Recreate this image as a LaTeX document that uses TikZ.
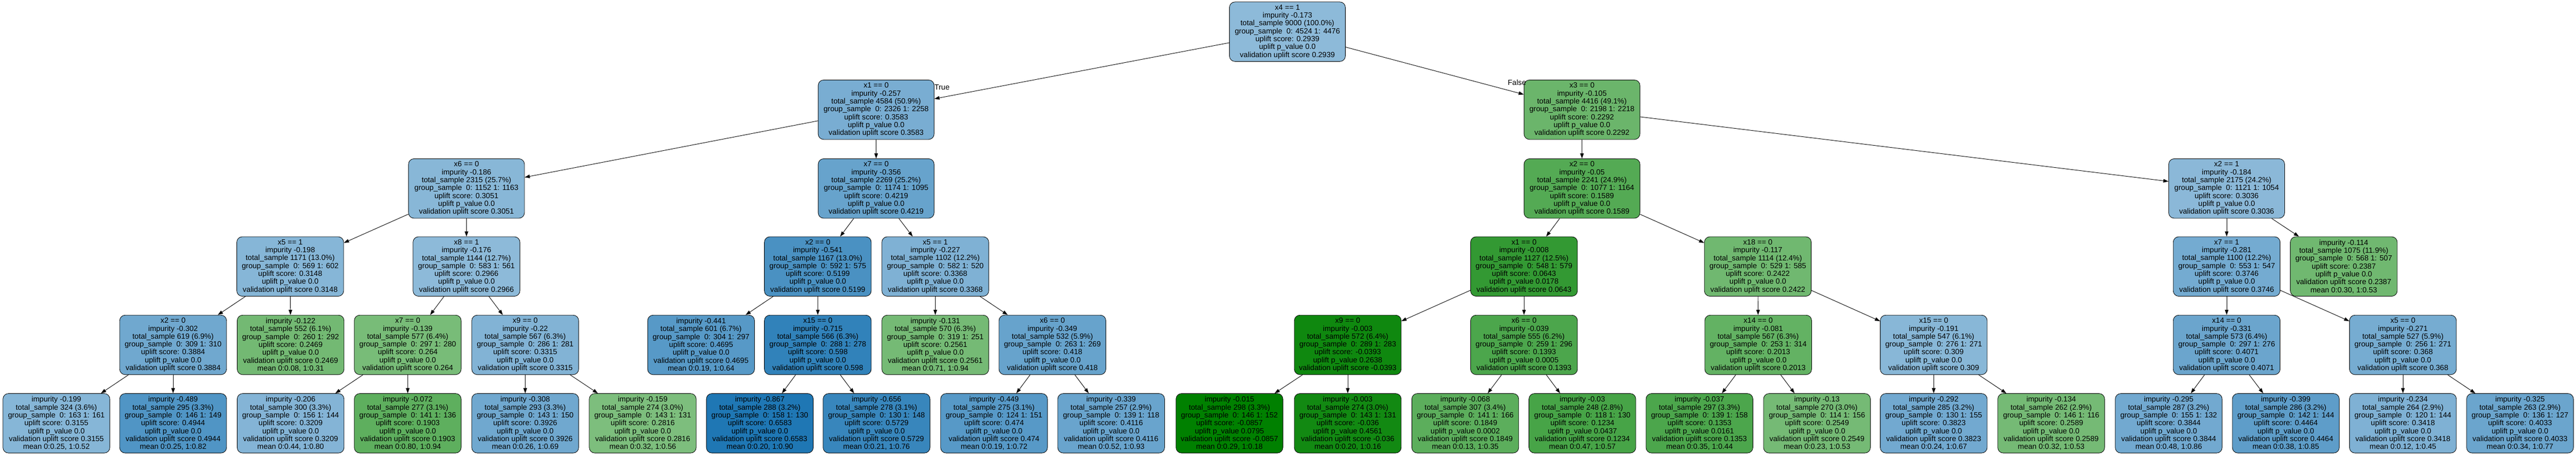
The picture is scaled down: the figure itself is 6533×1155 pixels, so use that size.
\documentclass[tikz,border=0pt]{standalone}
\usepackage{fontspec}
\setmainfont{Liberation Sans}
\usetikzlibrary{arrows.meta}
\definecolor{tblue}{RGB}{31,119,180}
\definecolor{tgreen}{RGB}{0,128,0}
\tikzset{
  tnode/.style={draw=black, line width=1.1pt, rounded corners=14pt, align=center,
    font=\fontsize{19}{20}\selectfont, inner sep=2pt, minimum height=151pt, text=black},
  widebox/.style={minimum width=294pt},
  narrowbox/.style={minimum width=271pt},
  edge/.style={line width=1.2pt, draw=black, -{Triangle[length=13pt,width=9pt]}},
  lbl/.style={font=\fontsize{19}{20}\selectfont, inner sep=0pt, text=black}
}
\begin{document}
\begin{tikzpicture}[x=1pt,y=-1pt]
\useasboundingbox (0,0) rectangle (6533,1155);
% level 0
\node[tnode,widebox,fill=tblue!51!white] (n0) at (3265,80.5) {x4 == 1\\impurity -0.173\\total\_sample 9000 (100.0\%)\\group\_sample~ 0: 4524 1: 4476\\uplift score: 0.2939\\uplift p\_value 0.0\\validation uplift score 0.2939};
% level 1
\node[tnode,widebox,fill=tblue!60!white] (n1) at (2222,278.5) {x1 == 0\\impurity -0.257\\total\_sample 4584 (50.9\%)\\group\_sample~ 0: 2326 1: 2258\\uplift score: 0.3583\\uplift p\_value 0.0\\validation uplift score 0.3583};
\node[tnode,widebox,fill=tgreen!58!white] (n2) at (4012,278.5) {x3 == 0\\impurity -0.105\\total\_sample 4416 (49.1\%)\\group\_sample~ 0: 2198 1: 2218\\uplift score: 0.2292\\uplift p\_value 0.0\\validation uplift score 0.2292};
% level 2
\node[tnode,widebox,fill=tblue!53!white] (n3) at (1183,478.5) {x6 == 0\\impurity -0.186\\total\_sample 2315 (25.7\%)\\group\_sample~ 0: 1152 1: 1163\\uplift score: 0.3051\\uplift p\_value 0.0\\validation uplift score 0.3051};
\node[tnode,widebox,fill=tblue!68!white] (n4) at (2222,478.5) {x7 == 0\\impurity -0.356\\total\_sample 2269 (25.2\%)\\group\_sample~ 0: 1174 1: 1095\\uplift score: 0.4219\\uplift p\_value 0.0\\validation uplift score 0.4219};
\node[tnode,widebox,fill=tgreen!67!white] (n5) at (4012,478.5) {x2 == 0\\impurity -0.05\\total\_sample 2241 (24.9\%)\\group\_sample~ 0: 1077 1: 1164\\uplift score: 0.1589\\uplift p\_value 0.0\\validation uplift score 0.1589};
\node[tnode,widebox,fill=tblue!52!white] (n6) at (5647,478.5) {x2 == 1\\impurity -0.184\\total\_sample 2175 (24.2\%)\\group\_sample~ 0: 1121 1: 1054\\uplift score: 0.3036\\uplift p\_value 0.0\\validation uplift score 0.3036};
% level 3
\node[tnode,narrowbox,fill=tblue!54!white] (n7) at (736,676.5) {x5 == 1\\impurity -0.198\\total\_sample 1171 (13.0\%)\\group\_sample~ 0: 569 1: 602\\uplift score: 0.3148\\uplift p\_value 0.0\\validation uplift score 0.3148};
\node[tnode,narrowbox,fill=tblue!51!white] (n8) at (1183,676.5) {x8 == 1\\impurity -0.176\\total\_sample 1144 (12.7\%)\\group\_sample~ 0: 583 1: 561\\uplift score: 0.2966\\uplift p\_value 0.0\\validation uplift score 0.2966};
\node[tnode,narrowbox,fill=tblue!81!white] (n9) at (2074,676.5) {x2 == 0\\impurity -0.541\\total\_sample 1167 (13.0\%)\\group\_sample~ 0: 592 1: 575\\uplift score: 0.5199\\uplift p\_value 0.0\\validation uplift score 0.5199};
\node[tnode,narrowbox,fill=tblue!57!white] (n10) at (2372,676.5) {x5 == 1\\impurity -0.227\\total\_sample 1102 (12.2\%)\\group\_sample~ 0: 582 1: 520\\uplift score: 0.3368\\uplift p\_value 0.0\\validation uplift score 0.3368};
\node[tnode,narrowbox,fill=tgreen!80!white] (n11) at (3865,676.5) {x1 == 0\\impurity -0.008\\total\_sample 1127 (12.5\%)\\group\_sample~ 0: 548 1: 579\\uplift score: 0.0643\\uplift p\_value 0.0178\\validation uplift score 0.0643};
\node[tnode,narrowbox,fill=tgreen!56!white] (n12) at (4458,676.5) {x18 == 0\\impurity -0.117\\total\_sample 1114 (12.4\%)\\group\_sample~ 0: 529 1: 585\\uplift score: 0.2422\\uplift p\_value 0.0\\validation uplift score 0.2422};
\node[tnode,narrowbox,fill=tblue!62!white] (n13) at (5647,676.5) {x7 == 1\\impurity -0.281\\total\_sample 1100 (12.2\%)\\group\_sample~ 0: 553 1: 547\\uplift score: 0.3746\\uplift p\_value 0.0\\validation uplift score 0.3746};
\node[tnode,narrowbox,fill=tgreen!56!white] (n14) at (5944,676.5) {impurity -0.114\\total\_sample 1075 (11.9\%)\\group\_sample~ 0: 568 1: 507\\uplift score: 0.2387\\uplift p\_value 0.0\\validation uplift score 0.2387\\mean 0:0.30, 1:0.53};
% level 4
\node[tnode,narrowbox,fill=tblue!64!white] (n15) at (439,875.5) {x2 == 0\\impurity -0.302\\total\_sample 619 (6.9\%)\\group\_sample~ 0: 309 1: 310\\uplift score: 0.3884\\uplift p\_value 0.0\\validation uplift score 0.3884};
\node[tnode,narrowbox,fill=tgreen!55!white] (n16) at (737,875.5) {impurity -0.122\\total\_sample 552 (6.1\%)\\group\_sample~ 0: 260 1: 292\\uplift score: 0.2469\\uplift p\_value 0.0\\validation uplift score 0.2469\\mean 0:0.08, 1:0.31};
\node[tnode,narrowbox,fill=tgreen!53!white] (n17) at (1034,875.5) {x7 == 0\\impurity -0.139\\total\_sample 577 (6.4\%)\\group\_sample~ 0: 297 1: 280\\uplift score: 0.264\\uplift p\_value 0.0\\validation uplift score 0.264};
\node[tnode,narrowbox,fill=tblue!56!white] (n18) at (1332,875.5) {x9 == 0\\impurity -0.22\\total\_sample 567 (6.3\%)\\group\_sample~ 0: 286 1: 281\\uplift score: 0.3315\\uplift p\_value 0.0\\validation uplift score 0.3315};
\node[tnode,narrowbox,fill=tblue!75!white] (n19) at (1778,875.5) {impurity -0.441\\total\_sample 601 (6.7\%)\\group\_sample~ 0: 304 1: 297\\uplift score: 0.4695\\uplift p\_value 0.0\\validation uplift score 0.4695\\mean 0:0.19, 1:0.64};
\node[tnode,narrowbox,fill=tblue!92!white] (n20) at (2074,875.5) {x15 == 0\\impurity -0.715\\total\_sample 566 (6.3\%)\\group\_sample~ 0: 288 1: 278\\uplift score: 0.598\\uplift p\_value 0.0\\validation uplift score 0.598};
\node[tnode,narrowbox,fill=tgreen!54!white] (n21) at (2372,875.5) {impurity -0.131\\total\_sample 570 (6.3\%)\\group\_sample~ 0: 319 1: 251\\uplift score: 0.2561\\uplift p\_value 0.0\\validation uplift score 0.2561\\mean 0:0.71, 1:0.94};
\node[tnode,narrowbox,fill=tblue!68!white] (n22) at (2669,875.5) {x6 == 0\\impurity -0.349\\total\_sample 532 (5.9\%)\\group\_sample~ 0: 263 1: 269\\uplift score: 0.418\\uplift p\_value 0.0\\validation uplift score 0.418};
\node[tnode,narrowbox,fill=tgreen!94!white] (n23) at (3418,875.5) {x9 == 0\\impurity -0.003\\total\_sample 572 (6.4\%)\\group\_sample~ 0: 289 1: 283\\uplift score: -0.0393\\uplift p\_value 0.2638\\validation uplift score -0.0393};
\node[tnode,narrowbox,fill=tgreen!70!white] (n24) at (3865,875.5) {x6 == 0\\impurity -0.039\\total\_sample 555 (6.2\%)\\group\_sample~ 0: 259 1: 296\\uplift score: 0.1393\\uplift p\_value 0.0005\\validation uplift score 0.1393};
\node[tnode,narrowbox,fill=tgreen!61!white] (n25) at (4459,875.5) {x14 == 0\\impurity -0.081\\total\_sample 567 (6.3\%)\\group\_sample~ 0: 253 1: 314\\uplift score: 0.2013\\uplift p\_value 0.0\\validation uplift score 0.2013};
\node[tnode,narrowbox,fill=tblue!53!white] (n26) at (4904,875.5) {x15 == 0\\impurity -0.191\\total\_sample 547 (6.1\%)\\group\_sample~ 0: 276 1: 271\\uplift score: 0.309\\uplift p\_value 0.0\\validation uplift score 0.309};
\node[tnode,narrowbox,fill=tblue!66!white] (n27) at (5647,875.5) {x14 == 0\\impurity -0.331\\total\_sample 573 (6.4\%)\\group\_sample~ 0: 297 1: 276\\uplift score: 0.4071\\uplift p\_value 0.0\\validation uplift score 0.4071};
\node[tnode,narrowbox,fill=tblue!61!white] (n28) at (6094,875.5) {x5 == 0\\impurity -0.271\\total\_sample 527 (5.9\%)\\group\_sample~ 0: 256 1: 271\\uplift score: 0.368\\uplift p\_value 0.0\\validation uplift score 0.368};
% level 5
\node[tnode,narrowbox,fill=tblue!54!white] (l0) at (143,1074.5) {impurity -0.199\\total\_sample 324 (3.6\%)\\group\_sample~ 0: 163 1: 161\\uplift score: 0.3155\\uplift p\_value 0.0\\validation uplift score 0.3155\\mean 0:0.25, 1:0.52};
\node[tnode,narrowbox,fill=tblue!78!white] (l1) at (439,1074.5) {impurity -0.489\\total\_sample 295 (3.3\%)\\group\_sample~ 0: 146 1: 149\\uplift score: 0.4944\\uplift p\_value 0.0\\validation uplift score 0.4944\\mean 0:0.25, 1:0.82};
\node[tnode,narrowbox,fill=tblue!55!white] (l2) at (737,1074.5) {impurity -0.206\\total\_sample 300 (3.3\%)\\group\_sample~ 0: 156 1: 144\\uplift score: 0.3209\\uplift p\_value 0.0\\validation uplift score 0.3209\\mean 0:0.44, 1:0.80};
\node[tnode,narrowbox,fill=tgreen!63!white] (l3) at (1034,1074.5) {impurity -0.072\\total\_sample 277 (3.1\%)\\group\_sample~ 0: 141 1: 136\\uplift score: 0.1903\\uplift p\_value 0.0\\validation uplift score 0.1903\\mean 0:0.80, 1:0.94};
\node[tnode,narrowbox,fill=tblue!64!white] (l4) at (1332,1074.5) {impurity -0.308\\total\_sample 293 (3.3\%)\\group\_sample~ 0: 143 1: 150\\uplift score: 0.3926\\uplift p\_value 0.0\\validation uplift score 0.3926\\mean 0:0.26, 1:0.69};
\node[tnode,narrowbox,fill=tgreen!51!white] (l5) at (1630,1074.5) {impurity -0.159\\total\_sample 274 (3.0\%)\\group\_sample~ 0: 143 1: 131\\uplift score: 0.2816\\uplift p\_value 0.0\\validation uplift score 0.2816\\mean 0:0.32, 1:0.56};
\node[tnode,narrowbox,fill=tblue!100!white] (l6) at (1927,1074.5) {impurity -0.867\\total\_sample 288 (3.2\%)\\group\_sample~ 0: 158 1: 130\\uplift score: 0.6583\\uplift p\_value 0.0\\validation uplift score 0.6583\\mean 0:0.20, 1:0.90};
\node[tnode,narrowbox,fill=tblue!89!white] (l7) at (2223,1074.5) {impurity -0.656\\total\_sample 278 (3.1\%)\\group\_sample~ 0: 130 1: 148\\uplift score: 0.5729\\uplift p\_value 0.0\\validation uplift score 0.5729\\mean 0:0.21, 1:0.76};
\node[tnode,narrowbox,fill=tblue!75!white] (l8) at (2521,1074.5) {impurity -0.449\\total\_sample 275 (3.1\%)\\group\_sample~ 0: 124 1: 151\\uplift score: 0.474\\uplift p\_value 0.0\\validation uplift score 0.474\\mean 0:0.19, 1:0.72};
\node[tnode,narrowbox,fill=tblue!67!white] (l9) at (2818,1074.5) {impurity -0.339\\total\_sample 257 (2.9\%)\\group\_sample~ 0: 139 1: 118\\uplift score: 0.4116\\uplift p\_value 0.0\\validation uplift score 0.4116\\mean 0:0.52, 1:0.93};
\node[tnode,narrowbox,fill=tgreen!100!white] (l10) at (3118,1074.5) {impurity -0.015\\total\_sample 298 (3.3\%)\\group\_sample~ 0: 146 1: 152\\uplift score: -0.0857\\uplift p\_value 0.0795\\validation uplift score -0.0857\\mean 0:0.29, 1:0.18};
\node[tnode,narrowbox,fill=tgreen!93!white] (l11) at (3418,1074.5) {impurity -0.003\\total\_sample 274 (3.0\%)\\group\_sample~ 0: 143 1: 131\\uplift score: -0.036\\uplift p\_value 0.4561\\validation uplift score -0.036\\mean 0:0.20, 1:0.16};
\node[tnode,narrowbox,fill=tgreen!64!white] (l12) at (3716,1074.5) {impurity -0.068\\total\_sample 307 (3.4\%)\\group\_sample~ 0: 141 1: 166\\uplift score: 0.1849\\uplift p\_value 0.0002\\validation uplift score 0.1849\\mean 0:0.13, 1:0.35};
\node[tnode,narrowbox,fill=tgreen!72!white] (l13) at (4013,1074.5) {impurity -0.03\\total\_sample 248 (2.8\%)\\group\_sample~ 0: 118 1: 130\\uplift score: 0.1234\\uplift p\_value 0.0437\\validation uplift score 0.1234\\mean 0:0.47, 1:0.57};
\node[tnode,narrowbox,fill=tgreen!70!white] (l14) at (4310,1074.5) {impurity -0.037\\total\_sample 297 (3.3\%)\\group\_sample~ 0: 139 1: 158\\uplift score: 0.1353\\uplift p\_value 0.0161\\validation uplift score 0.1353\\mean 0:0.35, 1:0.44};
\node[tnode,narrowbox,fill=tgreen!54!white] (l15) at (4608,1074.5) {impurity -0.13\\total\_sample 270 (3.0\%)\\group\_sample~ 0: 114 1: 156\\uplift score: 0.2549\\uplift p\_value 0.0\\validation uplift score 0.2549\\mean 0:0.23, 1:0.53};
\node[tnode,narrowbox,fill=tblue!63!white] (l16) at (4904,1074.5) {impurity -0.292\\total\_sample 285 (3.2\%)\\group\_sample~ 0: 130 1: 155\\uplift score: 0.3823\\uplift p\_value 0.0\\validation uplift score 0.3823\\mean 0:0.24, 1:0.67};
\node[tnode,narrowbox,fill=tgreen!54!white] (l17) at (5202,1074.5) {impurity -0.134\\total\_sample 262 (2.9\%)\\group\_sample~ 0: 146 1: 116\\uplift score: 0.2589\\uplift p\_value 0.0\\validation uplift score 0.2589\\mean 0:0.32, 1:0.53};
\node[tnode,narrowbox,fill=tblue!63!white] (l18) at (5500,1074.5) {impurity -0.295\\total\_sample 287 (3.2\%)\\group\_sample~ 0: 155 1: 132\\uplift score: 0.3844\\uplift p\_value 0.0\\validation uplift score 0.3844\\mean 0:0.48, 1:0.86};
\node[tnode,narrowbox,fill=tblue!72!white] (l19) at (5797,1074.5) {impurity -0.399\\total\_sample 286 (3.2\%)\\group\_sample~ 0: 142 1: 144\\uplift score: 0.4464\\uplift p\_value 0.0\\validation uplift score 0.4464\\mean 0:0.38, 1:0.85};
\node[tnode,narrowbox,fill=tblue!57!white] (l20) at (6094,1074.5) {impurity -0.234\\total\_sample 264 (2.9\%)\\group\_sample~ 0: 120 1: 144\\uplift score: 0.3418\\uplift p\_value 0.0\\validation uplift score 0.3418\\mean 0:0.12, 1:0.45};
\node[tnode,narrowbox,fill=tblue!66!white] (l21) at (6391,1074.5) {impurity -0.325\\total\_sample 263 (2.9\%)\\group\_sample~ 0: 136 1: 127\\uplift score: 0.4033\\uplift p\_value 0.0\\validation uplift score 0.4033\\mean 0:0.34, 1:0.77};
% edge labels
\node[lbl] (tlab) at (2389,222) {True};
\node[lbl] (flab) at (3847,209) {False};
% edges
\draw[edge] (n0) -- (n1);
\draw[edge] (n0) -- (n2);
\draw[edge] (n1) -- (n3);
\draw[edge] (n1) -- (n4);
\draw[edge] (n2) -- (n5);
\draw[edge] (n2) -- (n6);
\draw[edge] (n3) -- (n7);
\draw[edge] (n3) -- (n8);
\draw[edge] (n4) -- (n9);
\draw[edge] (n4) -- (n10);
\draw[edge] (n5) -- (n11);
\draw[edge] (n5) -- (n12);
\draw[edge] (n6) -- (n13);
\draw[edge] (n6) -- (n14);
\draw[edge] (n7) -- (n15);
\draw[edge] (n7) -- (n16);
\draw[edge] (n8) -- (n17);
\draw[edge] (n8) -- (n18);
\draw[edge] (n9) -- (n19);
\draw[edge] (n9) -- (n20);
\draw[edge] (n10) -- (n21);
\draw[edge] (n10) -- (n22);
\draw[edge] (n11) -- (n23);
\draw[edge] (n11) -- (n24);
\draw[edge] (n12) -- (n25);
\draw[edge] (n12) -- (n26);
\draw[edge] (n13) -- (n27);
\draw[edge] (n13) -- (n28);
\draw[edge] (n15) -- (l0);
\draw[edge] (n15) -- (l1);
\draw[edge] (n17) -- (l2);
\draw[edge] (n17) -- (l3);
\draw[edge] (n18) -- (l4);
\draw[edge] (n18) -- (l5);
\draw[edge] (n20) -- (l6);
\draw[edge] (n20) -- (l7);
\draw[edge] (n22) -- (l8);
\draw[edge] (n22) -- (l9);
\draw[edge] (n23) -- (l10);
\draw[edge] (n23) -- (l11);
\draw[edge] (n24) -- (l12);
\draw[edge] (n24) -- (l13);
\draw[edge] (n25) -- (l14);
\draw[edge] (n25) -- (l15);
\draw[edge] (n26) -- (l16);
\draw[edge] (n26) -- (l17);
\draw[edge] (n27) -- (l18);
\draw[edge] (n27) -- (l19);
\draw[edge] (n28) -- (l20);
\draw[edge] (n28) -- (l21);
\end{tikzpicture}
\end{document}
